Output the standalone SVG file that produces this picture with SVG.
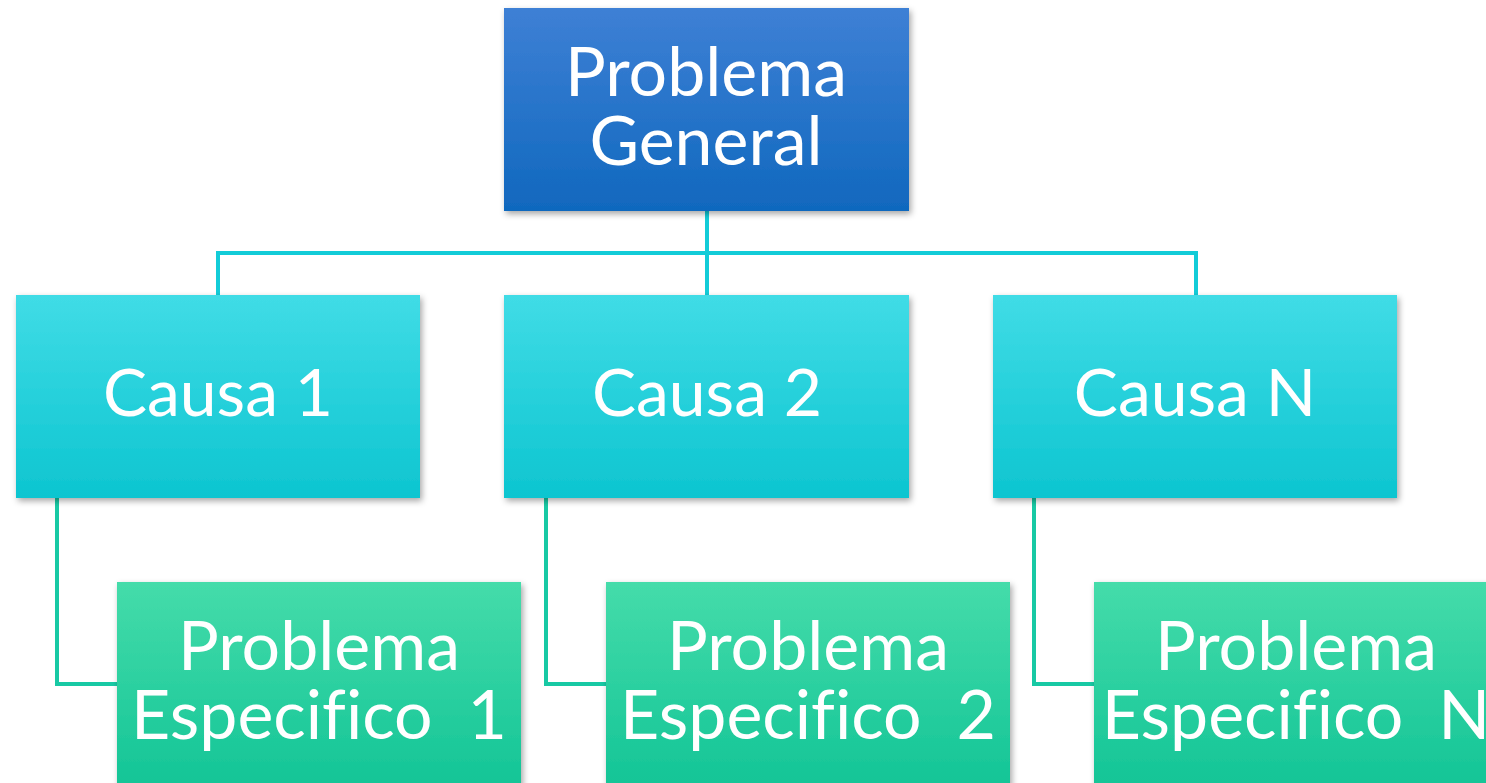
<svg xmlns="http://www.w3.org/2000/svg" width="1486" height="783" viewBox="0 0 1486 783">
<defs>
<linearGradient id="gBlue" x1="0" y1="0" x2="0" y2="1"><stop offset="0" stop-color="#3e80d5"/><stop offset="1" stop-color="#1068be"/></linearGradient>
<linearGradient id="gCyan" x1="0" y1="0" x2="0" y2="1"><stop offset="0" stop-color="#40dce6"/><stop offset="1" stop-color="#0dc5d0"/></linearGradient>
<linearGradient id="gGreen" x1="0" y1="0" x2="0" y2="1"><stop offset="0" stop-color="#45dcaa"/><stop offset="1" stop-color="#12c496"/></linearGradient>
<filter id="sh" x="-10%" y="-10%" width="120%" height="130%"><feDropShadow dx="2" dy="3" stdDeviation="3" flood-color="#000" flood-opacity="0.35"/></filter>
<style>
.t{font-family:Lato,"Open Sans",sans-serif;fill:#fff;text-anchor:middle;white-space:pre;font-variant-ligatures:none;font-feature-settings:"liga" 0}
.big{font-size:68px}
.mid{font-size:66px}
.c1{fill:none;stroke:#12ccd8;stroke-width:4}
.c2{fill:none;stroke:#18c9a4;stroke-width:4}
</style>
</defs>
<g id="connectors">
<path class="c1" d="M707 211V295M218 295V253H1196V295"/>
<path class="c2" d="M57 498V684H117M546 498V684H606M1034 498V684H1094"/>
</g>
<g id="n-general"><rect x="504" y="8" width="405" height="203" fill="url(#gBlue)" filter="url(#sh)"/><text class="t big" x="706" y="96">Problema</text><text class="t big" x="706" y="165">General</text></g>
<g id="n-causa1"><rect x="16" y="295" width="404" height="203" fill="url(#gCyan)" filter="url(#sh)"/><text class="t mid" x="218" y="416">Causa 1</text></g>
<g id="n-causa2"><rect x="504" y="295" width="405" height="203" fill="url(#gCyan)" filter="url(#sh)"/><text class="t mid" x="707" y="416">Causa 2</text></g>
<g id="n-causaN"><rect x="993" y="295" width="404" height="203" fill="url(#gCyan)" filter="url(#sh)"/><text class="t mid" x="1195" y="416">Causa N</text></g>
<g id="n-esp1"><rect x="117" y="582" width="404" height="210" fill="url(#gGreen)" filter="url(#sh)"/><text class="t big" x="319" y="670">Problema</text><text class="t big" x="319" y="739">Especifico  1</text></g>
<g id="n-esp2"><rect x="606" y="582" width="404" height="210" fill="url(#gGreen)" filter="url(#sh)"/><text class="t big" x="808" y="670">Problema</text><text class="t big" x="808" y="739">Especifico  2</text></g>
<g id="n-espN"><rect x="1094" y="582" width="404" height="210" fill="url(#gGreen)" filter="url(#sh)"/><text class="t big" x="1296" y="670">Problema</text><text class="t big" x="1296" y="739">Especifico  N</text></g>
</svg>
